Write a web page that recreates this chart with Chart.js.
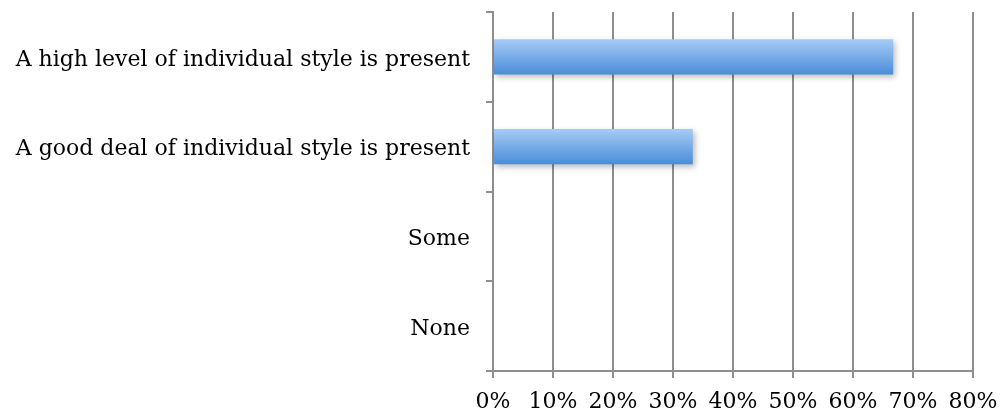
<!DOCTYPE html>
<html>
<head>
<meta charset="utf-8">
<script src="https://cdn.jsdelivr.net/npm/chart.js@4/dist/chart.umd.min.js"></script>
<style>
  html, body { margin: 0; padding: 0; background: #fff; }
  #wrap { width: 1000px; height: 417px; }
</style>
</head>
<body>
<div id="wrap"><canvas id="styleChart" width="1000" height="417"></canvas></div>
<script>
// survey answers, share of respondents (%)
const categories = [
  'A high level of individual style is present',
  'A good deal of individual style is present',
  'Some',
  'None'
];
const shares = [66.7, 33.3, 0, 0];
const tickValues = [0, 10, 20, 30, 40, 50, 60, 70, 80];

const gridGray = '#8e8e8e';
const labelFont = { family: 'DejaVu Serif', size: 22 };

// each bar gets its own top-to-bottom blue gradient
const barFill = (ctx) => {
  const chart = ctx.chart;
  if (!chart.chartArea) return '#6fa6e6';
  const y = chart.scales.y;
  const mid = y.getPixelForValue(ctx.dataIndex);
  const half = (y.height / categories.length) * 0.39 / 2;
  const g = chart.ctx.createLinearGradient(0, mid - half, 0, mid + half);
  g.addColorStop(0, '#a7cbf6');
  g.addColorStop(1, '#4a8dd8');
  return g;
};

// soft drop shadow under the bars
const barShadow = {
  id: 'barShadow',
  beforeDatasetsDraw(chart) {
    const c = chart.ctx;
    c.save();
    c.shadowColor = 'rgba(0, 0, 0, 0.28)';
    c.shadowBlur = 6;
    c.shadowOffsetX = 2;
    c.shadowOffsetY = 3;
  },
  afterDatasetsDraw(chart) {
    chart.ctx.restore();
  }
};

new Chart(document.getElementById('styleChart'), {
  type: 'bar',
  data: {
    labels: categories,
    datasets: [{
      data: shares,
      backgroundColor: barFill,
      borderWidth: 0,
      categoryPercentage: 1,
      barPercentage: 0.39
    }]
  },
  plugins: [barShadow],
  options: {
    indexAxis: 'y',
    responsive: false,
    animation: false,
    layout: { padding: { top: 12, right: 27, left: 0, bottom: 0 } },
    plugins: {
      legend: { display: false },
      tooltip: { enabled: false }
    },
    scales: {
      x: {
        min: 0,
        max: 80,
        afterBuildTicks: (scale) => {
          scale.ticks = tickValues.map(v => ({ value: v }));
        },
        afterFit: (scale) => {
          scale.height = 46;
          scale.paddingLeft = 0;
          scale.paddingRight = 0;
        },
        grid: {
          color: gridGray,
          lineWidth: 2,
          tickLength: 7
        },
        border: { color: gridGray, width: 2 },
        ticks: {
          color: '#000',
          font: labelFont,
          padding: 11,
          maxRotation: 0,
          callback: (v) => v + '%'
        }
      },
      y: {
        afterFit: (scale) => {
          scale.width = 493;
          scale.paddingTop = 0;
          scale.paddingBottom = 0;
        },
        grid: {
          offset: true,
          drawOnChartArea: false,
          color: gridGray,
          lineWidth: 2,
          tickLength: 7
        },
        border: { color: gridGray, width: 2 },
        ticks: {
          color: '#000',
          font: labelFont,
          padding: 16,
          labelOffset: 3
        }
      }
    }
  }
});
</script>
</body>
</html>
